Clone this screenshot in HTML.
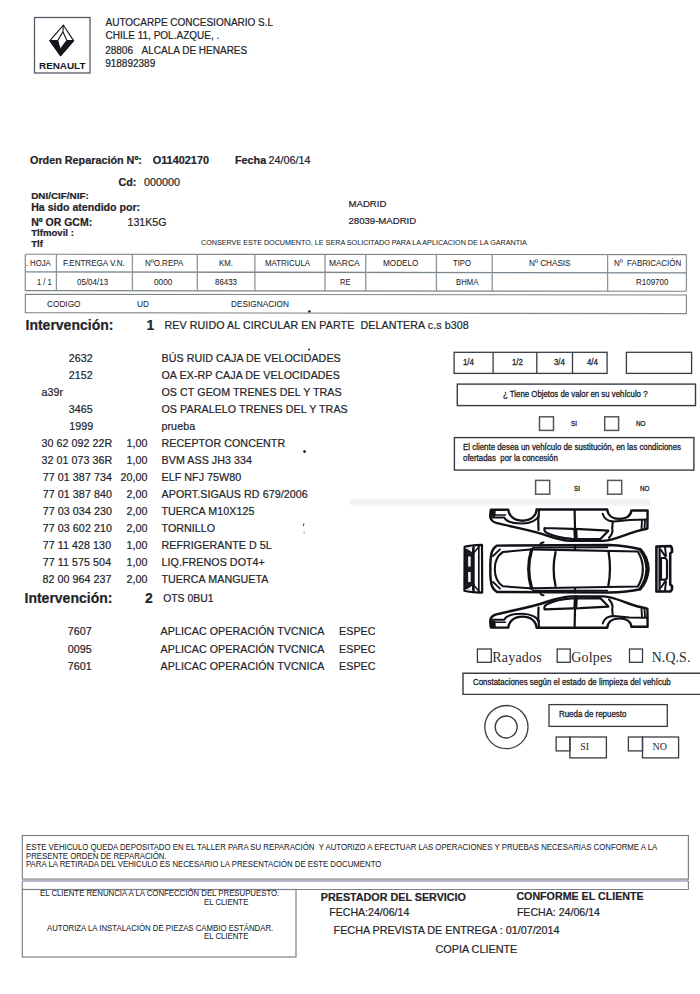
<!DOCTYPE html>
<html><head><meta charset="utf-8">
<style>
html,body{margin:0;padding:0;background:#fff;}
body{width:700px;height:994px;position:relative;overflow:hidden;}
.t{position:absolute;white-space:pre;line-height:1;transform-origin:0 0;font-family:"Liberation Sans",sans-serif;color:#232328;-webkit-text-stroke:0.2px #232328;}
.b{font-weight:bold;}
.f2{font-family:"Liberation Serif",serif;-webkit-text-stroke:0;color:#2a2a30;}
svg{position:absolute;left:0;top:0;}
.rn{position:absolute;left:39.0px;top:61.9px;font:bold 9.9px/1 "Liberation Sans",sans-serif;color:#15151c;transform:scaleY(0.87);transform-origin:0 0;letter-spacing:0px;}
</style></head><body>
<svg width="700" height="994" viewBox="0 0 700 994">
<rect x="34.5" y="17.5" width="55.5" height="55.5" fill="none" stroke="#555a66" stroke-width="1.3"/>
<g stroke="#15151c" stroke-width="1.1" stroke-linejoin="round">
<path d="M63.4 25.2 L73.6 40.6 L60.6 55.6 L49.9 40.6 Z" fill="#fff"/>
<path d="M49.9 40.6 L60.6 55.6 L73.6 40.6 L66.9 40.6 L60.2 49.4 L57.7 40.6 Z" fill="#15151c"/>
<path d="M62.9 31.8 L66.9 40.6 L60.2 49.4 L57.7 40.6 Z" fill="#fff"/>
<path d="M63.4 25.2 L62.9 31.8" fill="none"/>
</g>
<line x1="25.3" y1="254.2" x2="686.4" y2="254.6" stroke="#7d8488" stroke-width="1.1"/>
<line x1="25.3" y1="290.6" x2="686.4" y2="291.3" stroke="#7d8488" stroke-width="1.1"/>
<line x1="25.3" y1="271.9" x2="686.4" y2="272.9" stroke="#7a8690" stroke-width="1.3"/>
<line x1="25.3" y1="254.4" x2="25.3" y2="291.0" stroke="#8e949c" stroke-width="1.3"/>
<line x1="56.4" y1="254.4" x2="56.4" y2="291.0" stroke="#8e949c" stroke-width="1.3"/>
<line x1="132.4" y1="254.4" x2="132.4" y2="291.0" stroke="#8e949c" stroke-width="1.3"/>
<line x1="197.3" y1="254.4" x2="197.3" y2="291.0" stroke="#8e949c" stroke-width="1.3"/>
<line x1="254.9" y1="254.4" x2="254.9" y2="291.0" stroke="#8e949c" stroke-width="1.3"/>
<line x1="325" y1="254.4" x2="325" y2="291.0" stroke="#8e949c" stroke-width="1.3"/>
<line x1="365.7" y1="254.4" x2="365.7" y2="291.0" stroke="#8e949c" stroke-width="1.3"/>
<line x1="436.4" y1="254.4" x2="436.4" y2="291.0" stroke="#8e949c" stroke-width="1.3"/>
<line x1="492.2" y1="254.4" x2="492.2" y2="291.0" stroke="#8e949c" stroke-width="1.3"/>
<line x1="607.6" y1="254.4" x2="607.6" y2="291.0" stroke="#8e949c" stroke-width="1.3"/>
<line x1="686.4" y1="254.4" x2="686.4" y2="291.0" stroke="#8e949c" stroke-width="1.3"/>
<path d="M25.3 294.2 L686.4 295.0 L686.4 313.6 L25.3 312.6 Z" fill="none" stroke="#7d8488" stroke-width="1.1"/>
<rect x="454.1" y="352.3" width="153.0" height="21.099999999999966" fill="none" stroke="#3a3a44" stroke-width="1.3"/>
<line x1="493.1" y1="352.3" x2="493.1" y2="373.4" stroke="#3a3a44" stroke-width="1.3"/>
<line x1="536.8" y1="352.3" x2="536.8" y2="373.4" stroke="#3a3a44" stroke-width="1.3"/>
<line x1="572.5" y1="352.3" x2="572.5" y2="373.4" stroke="#3a3a44" stroke-width="1.3"/>
<rect x="626.4" y="352.3" width="65.20000000000005" height="21.099999999999966" fill="none" stroke="#3a3a44" stroke-width="1.3"/>
<rect x="457.3" y="384.1" width="238.2" height="21.5" fill="none" stroke="#3a3a44" stroke-width="1.4"/>
<rect x="539.5" y="416.8" width="14.0" height="13.599999999999966" fill="none" stroke="#555560" stroke-width="1.5"/>
<rect x="604.7" y="416.8" width="13.899999999999977" height="13.599999999999966" fill="none" stroke="#555560" stroke-width="1.5"/>
<rect x="454.4" y="437.6" width="239.5" height="32.5" fill="none" stroke="#3a3a44" stroke-width="1.4"/>
<rect x="535.6" y="480.4" width="14.100000000000023" height="13.800000000000011" fill="none" stroke="#555560" stroke-width="1.5"/>
<rect x="607.6" y="480.4" width="14.100000000000023" height="13.800000000000011" fill="none" stroke="#555560" stroke-width="1.5"/>
<rect x="477.4" y="649" width="13.900000000000034" height="13.299999999999955" fill="none" stroke="#3a3a44" stroke-width="1.3"/>
<rect x="557.2" y="649" width="13.0" height="13.299999999999955" fill="none" stroke="#3a3a44" stroke-width="1.3"/>
<rect x="629.5" y="649" width="13.0" height="13.299999999999955" fill="none" stroke="#3a3a44" stroke-width="1.3"/>
<path d="M701 673.2 L463 673.2 L463 694.4 L701 694.4" fill="none" stroke="#3a3a44" stroke-width="1.4"/>
<circle cx="506.4" cy="727.1" r="21.6" fill="none" stroke="#3a3a44" stroke-width="1.3"/>
<circle cx="506.2" cy="727.0" r="11" fill="none" stroke="#3a3a44" stroke-width="1.3"/>
<rect x="549" y="704.6" width="118.29999999999995" height="21.799999999999955" fill="none" stroke="#3a3a44" stroke-width="1.3"/>
<rect x="569.9" y="737" width="36.5" height="20.899999999999977" fill="none" stroke="#3a3a44" stroke-width="1.3"/>
<rect x="556.1" y="737" width="13.799999999999955" height="13.899999999999977" fill="none" stroke="#3a3a44" stroke-width="1.3"/>
<rect x="642.5" y="737" width="36.10000000000002" height="20.899999999999977" fill="none" stroke="#3a3a44" stroke-width="1.3"/>
<rect x="628.4" y="737" width="14.100000000000023" height="13.899999999999977" fill="none" stroke="#3a3a44" stroke-width="1.3"/>
<rect x="350" y="498" width="300" height="8" fill="#f6f6f8"/>
<rect x="350" y="500" width="300" height="4" fill="#f2f2f4"/>
<circle cx="309.1" cy="349.4" r="1.0" fill="#222"/>
<circle cx="304.6" cy="451.6" r="1.4" fill="#111"/>
<circle cx="309.4" cy="311.4" r="1.2" fill="#111"/>
<path d="M303.9 523.2 L303.4 526" stroke="#444" stroke-width="1" fill="none"/>
<path d="M304.3 531.8 L304.0 533.6" stroke="#777" stroke-width="0.8" fill="none"/>
<rect x="22.3" y="835.5" width="666.1" height="43.60000000000002" fill="none" stroke="#7c808a" stroke-width="1.2"/>
<line x1="22.3" y1="881.0" x2="688.4" y2="881.0" stroke="#9ea2b8" stroke-width="1.3"/>
<line x1="22.3" y1="881.0" x2="22.3" y2="889.5" stroke="#7c808a" stroke-width="1.1"/>
<line x1="688.4" y1="881.0" x2="688.4" y2="889.5" stroke="#7c808a" stroke-width="1.1"/>
<line x1="22.3" y1="889.5" x2="688.4" y2="889.5" stroke="#7c808a" stroke-width="1.2"/>
<rect x="22.3" y="889.5" width="273.7" height="67.5" fill="none" stroke="#7c808a" stroke-width="1.2"/>
<g fill="none" stroke="#111118" stroke-linejoin="round" stroke-linecap="round">
<!-- bottom side view (right side) ; mirrored for top -->
<g id="sv">
<path stroke-width="2.4" d="M491,627.6 L490.2,621 Q490.5,615.5 497,614.2 C510,611 528,607.5 540,604 C551,600.5 559,597 571,596.4 L603.6,596.4 C613,597 620,600.5 630,604 C638,606.8 644,607.8 647.4,608.8 L647.6,626.8 L631.4,626.8 C630.8,621.5 626,618.4 619.4,618.4 C613,618.4 607.8,621.5 607.2,627.8 L536.6,627.8 C536,621 530.5,616.6 522.4,616.6 C514.5,616.6 509,621 508.3,627.6 Z"/>
<path stroke-width="2.0" d="M491,619.8 L504.2,619.8 C506,616 513,613.8 522,613.8 C531,613.8 537.5,617.5 539,622"/>
<path stroke-width="1.6" d="M491,622.3 L505.5,622.3"/>
<path stroke-width="2.0" d="M602.7,623.6 C604,619 608,615.9 614,615.9 L629.3,617.4 L647.4,617.8"/>
<path stroke-width="2.2" d="M538.5,607.5 Q537.8,617 539,627.5"/>
<path stroke-width="2.2" d="M575.3,596.8 L574.6,627.3"/>
<path stroke-width="4.0" d="M575.9,597.5 L575.3,607.5"/>
<path stroke-width="2.2" d="M544.6,609.3 Q543.5,606 547.5,604 C553,601.3 560,599.2 572,598.4 L600.4,598.2 L608.4,606.6 L580,608.2 L544.6,609.3"/>
<path stroke-width="2.1" d="M609,599.5 Q613.5,604 612.2,609 L612.7,615.5"/>
<path stroke-width="1.9" d="M641.5,609 L642,617.3 M644.5,609 L645,617"/>
<path fill="#111118" stroke-width="0.8" d="M490.4,621 L495,621 L495.3,627.4 L490.6,627.4 Z"/>

</g>
<use href="#sv" transform="matrix(1,0,0,-1,0,1137.3)"/>
<!-- plan view -->
<path stroke-width="2.45" d="M497,545.6 L608.7,545 C620,545.5 632,547 640.3,549.2 Q647.5,556 648.6,569 Q647.5,582 640.3,589.2 C632,591.2 620,592.3 608.7,592.4 L497,592 Q492,589 491.2,583 Q490,576 490.4,569 Q490,562 491.2,555 Q492,549 497,545.6 Z"/>
<path stroke-width="2.05" d="M533,549.3 L503,552 Q494.8,557 494.8,569 Q494.8,581 503,586.3 L533,588.6"/>
<path stroke-width="1.85" d="M493,556 L500,549.3 M493,582 L500,588.6"/>
<path stroke-width="3.25" d="M531.6,549.8 Q525.8,569 531.6,588.3"/>
<path stroke-width="2.25" d="M555.5,552.2 Q551.8,569 555.5,585.8"/>
<path stroke-width="2.25" d="M608.6,552.2 Q611.5,569 608.3,586"/>
<path stroke-width="2.15" d="M531,549.4 L637.8,551.5 Q643,560 642.8,569 Q643,578 637.8,586.5 L531,588.3"/>
<path stroke-width="1.95" d="M533,547.6 L607.3,547.3 M533,590.6 L607.3,590.6"/>
<path stroke-width="2.25" d="M575,545.5 L575,549.5 M575,588.5 L575,592.3"/>
<path stroke-width="2.05" d="M540.5,545.5 Q540,542.5 543.5,542.4 M540.5,592 Q540,595.2 543.5,595.3"/>
<path stroke-width="2.95" d="M640,549.5 Q646.5,558 646.8,569 Q646.5,580 640,588.8"/>
<!-- front bumper -->
<path fill="#1a1a22" stroke="none" d="M465,549 L473.6,547.5 L473.6,590.5 L465,589 Z"/>
<path fill="#fff" stroke="none" d="M468.2,556.5 L470.6,556.5 L470.6,566.5 L468.2,566.5 Z M468.2,572 L470.6,572 L470.6,582 L468.2,582 Z"/>
<path fill="#fff" stroke="none" d="M466.5,548.5 L472,548 L472,552 Z M466.5,589.5 L472,590 L472,586 Z"/>
<path stroke-width="2.2" d="M464.6,546.8 Q470,545.2 482,544.9 L482.2,592.6 Q470,592.4 464.4,590.8 Z"/>
<path stroke-width="2.2" d="M473.6,545.8 L473.6,592.2"/>
<path stroke-width="1.7" d="M478.8,545.4 L478.8,592.4"/>
<path stroke-width="1.5" d="M473.6,553 L479.5,546 M473.6,585 L479.5,591.8"/>
<!-- rear bumper -->
<path stroke-width="2.55" d="M656.4,546.4 L670.5,546 Q672.6,548 672,552 L670.2,553.5 L670.2,584.5 L672,586 Q672.6,590 670.5,591.4 L656.4,591.6 Z"/>
<path stroke-width="2.25" d="M659.6,546.5 L659.6,591.5"/>
<path stroke-width="2.15" d="M661,558 L665,558 Q667,559 667,561 L667,577 Q667,579.5 665,579.6 L661,579.8 Z"/>
<path stroke-width="1.95" d="M661,550 L665,556 M665,547 L666,556 M661,587.5 L665,581.5 M665,590.5 L666,581.5"/>
</g>

</svg>
<div class="rn">RENAULT</div>
<div class="t" style="left:105.5px;top:18.04px;font-size:10.0px;">AUTOCARPE CONCESIONARIO S.L</div>
<div class="t" style="left:105.5px;top:31.43px;font-size:10.0px;">CHILE 11, POL.AZQUE, .</div>
<div class="t" style="left:105.2px;top:46.03px;font-size:10.0px;">28806</div>
<div class="t" style="left:141.6px;top:46.03px;font-size:10.0px;">ALCALA DE HENARES</div>
<div class="t" style="left:105.2px;top:59.13px;font-size:10.0px;">918892389</div>
<div class="t b" style="left:30.0px;top:154.76px;font-size:10.8px;">Orden Reparación Nº:</div>
<div class="t b" style="left:152.7px;top:154.67px;font-size:10.9px;">O11402170</div>
<div class="t b" style="left:235.0px;top:154.76px;font-size:10.8px;">Fecha</div>
<div class="t" style="left:268.5px;top:154.76px;font-size:10.8px;">24/06/14</div>
<div class="t b" style="left:118.4px;top:177.46px;font-size:10.8px;">Cd:</div>
<div class="t" style="left:144.0px;top:177.46px;font-size:10.8px;">000000</div>
<div class="t b" style="left:31.2px;top:190.62px;font-size:9.9px;">DNI/CIF/NIF:</div>
<div class="t b" style="left:31.2px;top:201.83px;font-size:10.6px;">Ha sido atendido por:</div>
<div class="t b" style="left:31.2px;top:216.91px;font-size:10.5px;">Nº OR GCM:</div>
<div class="t" style="left:127.5px;top:216.83px;font-size:10.6px;">131K5G</div>
<div class="t b" style="left:31.2px;top:227.67px;font-size:9.6px;">Tlfmovil :</div>
<div class="t b" style="left:31.2px;top:238.67px;font-size:9.6px;">Tlf</div>
<div class="t" style="left:348.5px;top:199.37px;font-size:9.6px;">MADRID</div>
<div class="t" style="left:348.5px;top:215.87px;font-size:9.6px;">28039-MADRID</div>
<div class="t" style="left:201.0px;top:239.21px;font-size:7.9px;transform:scaleX(0.91);-webkit-text-stroke:0.05px;">CONSERVE ESTE DOCUMENTO, LE SERA SOLICITADO PARA LA APLICACION DE LA GARANTIA</div>
<div class="t" style="left:25.7px;top:259.27px;font-size:8.9px;transform:scaleX(0.88);-webkit-text-stroke:0.05px;">.</div>
<div class="t" style="left:30.3px;top:259.27px;font-size:8.9px;transform:scaleX(0.88);-webkit-text-stroke:0.05px;">HOJA</div>
<div class="t" style="left:63.0px;top:259.18px;font-size:9.0px;transform:scaleX(0.894);-webkit-text-stroke:0.05px;">F.ENTREGA V.N.</div>
<div class="t" style="left:145.0px;top:259.27px;font-size:8.9px;transform:scaleX(0.9);-webkit-text-stroke:0.05px;">NºO.REPA</div>
<div class="t" style="left:218.7px;top:259.27px;font-size:8.9px;transform:scaleX(0.88);-webkit-text-stroke:0.05px;">KM.</div>
<div class="t" style="left:265.0px;top:259.27px;font-size:8.9px;transform:scaleX(0.89);-webkit-text-stroke:0.05px;">MATRICULA</div>
<div class="t" style="left:328.5px;top:259.27px;font-size:8.9px;transform:scaleX(0.96);-webkit-text-stroke:0.05px;">MARCA</div>
<div class="t" style="left:382.9px;top:259.27px;font-size:8.9px;transform:scaleX(0.92);-webkit-text-stroke:0.05px;">MODELO</div>
<div class="t" style="left:452.7px;top:259.27px;font-size:8.9px;transform:scaleX(0.87);-webkit-text-stroke:0.05px;">TIPO</div>
<div class="t" style="left:528.6px;top:259.27px;font-size:8.9px;transform:scaleX(0.92);-webkit-text-stroke:0.05px;">Nº CHASIS</div>
<div class="t" style="left:614.3px;top:259.27px;font-size:8.9px;transform:scaleX(0.9);-webkit-text-stroke:0.05px;">Nº&nbsp;&nbsp;FABRICACIÓN</div>
<div class="t" style="left:37.1px;top:278.37px;font-size:8.9px;transform:scaleX(0.85);-webkit-text-stroke:0.05px;">1 / 1</div>
<div class="t" style="left:77.3px;top:278.37px;font-size:8.9px;transform:scaleX(0.9);-webkit-text-stroke:0.05px;">05/04/13</div>
<div class="t" style="left:153.6px;top:278.37px;font-size:8.9px;transform:scaleX(0.93);-webkit-text-stroke:0.05px;">0000</div>
<div class="t" style="left:215.0px;top:278.37px;font-size:8.9px;transform:scaleX(0.89);-webkit-text-stroke:0.05px;">86433</div>
<div class="t" style="left:340.0px;top:278.37px;font-size:8.9px;transform:scaleX(0.85);-webkit-text-stroke:0.05px;">RE</div>
<div class="t" style="left:455.7px;top:278.37px;font-size:8.9px;transform:scaleX(0.87);-webkit-text-stroke:0.05px;">BHMA</div>
<div class="t" style="left:635.7px;top:278.37px;font-size:8.9px;transform:scaleX(0.9);-webkit-text-stroke:0.05px;">R109700</div>
<div class="t" style="left:47.1px;top:300.01px;font-size:9.2px;transform:scaleX(0.9);-webkit-text-stroke:0.05px;">CODIGO</div>
<div class="t" style="left:137.0px;top:300.01px;font-size:9.2px;transform:scaleX(0.9);-webkit-text-stroke:0.05px;">UD</div>
<div class="t" style="left:231.3px;top:300.01px;font-size:9.2px;transform:scaleX(0.9);-webkit-text-stroke:0.05px;">DESIGNACION</div>
<div class="t b" style="left:25.5px;top:317.55px;font-size:14.0px;">Intervención:</div>
<div class="t b" style="left:146.5px;top:317.55px;font-size:14.0px;">1</div>
<div class="t" style="left:164.5px;top:320.34px;font-size:10.7px;letter-spacing:0.08px">REV RUIDO AL CIRCULAR EN PARTE&nbsp;&nbsp;DELANTERA c.s b308</div>
<div class="t" style="left:68.7px;top:353.04px;font-size:10.7px;letter-spacing:0.06px">2632</div>
<div class="t" style="left:161.5px;top:353.04px;font-size:10.7px;letter-spacing:0.06px">BÚS RUID CAJA DE VELOCIDADES</div>
<div class="t" style="left:68.7px;top:370.00px;font-size:10.7px;letter-spacing:0.06px">2152</div>
<div class="t" style="left:161.5px;top:370.00px;font-size:10.7px;letter-spacing:0.06px">OA EX-RP CAJA DE VELOCIDADES</div>
<div class="t" style="left:41.4px;top:386.96px;font-size:10.7px;letter-spacing:0.06px">a39r</div>
<div class="t" style="left:161.5px;top:386.96px;font-size:10.7px;letter-spacing:0.06px">OS CT GEOM TRENES DEL Y TRAS</div>
<div class="t" style="left:68.7px;top:403.92px;font-size:10.7px;letter-spacing:0.06px">3465</div>
<div class="t" style="left:161.5px;top:403.92px;font-size:10.7px;letter-spacing:0.06px">OS PARALELO TRENES DEL Y TRAS</div>
<div class="t" style="left:69.2px;top:420.88px;font-size:10.7px;letter-spacing:0.06px">1999</div>
<div class="t" style="left:161.5px;top:420.88px;font-size:10.7px;letter-spacing:0.06px">prueba</div>
<div class="t" style="left:41.5px;top:437.84px;font-size:10.7px;letter-spacing:0.06px">30 62 092 22R</div>
<div class="t" style="left:126.4px;top:437.84px;font-size:10.7px;letter-spacing:0.06px">1,00</div>
<div class="t" style="left:161.5px;top:437.84px;font-size:10.7px;letter-spacing:0.06px">RECEPTOR CONCENTR</div>
<div class="t" style="left:41.5px;top:454.80px;font-size:10.7px;letter-spacing:0.06px">32 01 073 36R</div>
<div class="t" style="left:126.4px;top:454.80px;font-size:10.7px;letter-spacing:0.06px">1,00</div>
<div class="t" style="left:161.5px;top:454.80px;font-size:10.7px;letter-spacing:0.06px">BVM ASS JH3 334</div>
<div class="t" style="left:42.8px;top:471.76px;font-size:10.7px;letter-spacing:0.06px">77 01 387 734</div>
<div class="t" style="left:120.4px;top:471.76px;font-size:10.7px;letter-spacing:0.06px">20,00</div>
<div class="t" style="left:161.5px;top:471.76px;font-size:10.7px;letter-spacing:0.06px">ELF NFJ 75W80</div>
<div class="t" style="left:42.8px;top:488.72px;font-size:10.7px;letter-spacing:0.06px">77 01 387 840</div>
<div class="t" style="left:126.4px;top:488.72px;font-size:10.7px;letter-spacing:0.06px">2,00</div>
<div class="t" style="left:161.5px;top:488.72px;font-size:10.7px;letter-spacing:0.06px">APORT.SIGAUS RD 679/2006</div>
<div class="t" style="left:42.8px;top:505.68px;font-size:10.7px;letter-spacing:0.06px">77 03 034 230</div>
<div class="t" style="left:126.4px;top:505.68px;font-size:10.7px;letter-spacing:0.06px">2,00</div>
<div class="t" style="left:161.5px;top:505.68px;font-size:10.7px;letter-spacing:0.06px">TUERCA M10X125</div>
<div class="t" style="left:42.8px;top:522.64px;font-size:10.7px;letter-spacing:0.06px">77 03 602 210</div>
<div class="t" style="left:126.4px;top:522.64px;font-size:10.7px;letter-spacing:0.06px">2,00</div>
<div class="t" style="left:161.5px;top:522.64px;font-size:10.7px;letter-spacing:0.06px">TORNILLO</div>
<div class="t" style="left:42.8px;top:539.60px;font-size:10.7px;letter-spacing:0.06px">77 11 428 130</div>
<div class="t" style="left:126.4px;top:539.60px;font-size:10.7px;letter-spacing:0.06px">1,00</div>
<div class="t" style="left:161.5px;top:539.60px;font-size:10.7px;letter-spacing:0.06px">REFRIGERANTE D 5L</div>
<div class="t" style="left:42.8px;top:556.56px;font-size:10.7px;letter-spacing:0.06px">77 11 575 504</div>
<div class="t" style="left:126.4px;top:556.56px;font-size:10.7px;letter-spacing:0.06px">1,00</div>
<div class="t" style="left:161.5px;top:556.56px;font-size:10.7px;letter-spacing:0.06px">LIQ.FRENOS DOT4+</div>
<div class="t" style="left:42.5px;top:573.52px;font-size:10.7px;letter-spacing:0.06px">82 00 964 237</div>
<div class="t" style="left:126.4px;top:573.52px;font-size:10.7px;letter-spacing:0.06px">2,00</div>
<div class="t" style="left:161.5px;top:573.52px;font-size:10.7px;letter-spacing:0.06px">TUERCA MANGUETA</div>
<div class="t b" style="left:24.5px;top:590.75px;font-size:14.0px;">Intervención:</div>
<div class="t b" style="left:145.0px;top:590.75px;font-size:14.0px;">2</div>
<div class="t" style="left:163.2px;top:593.80px;font-size:10.4px;">OTS 0BU1</div>
<div class="t" style="left:67.7px;top:626.44px;font-size:10.7px;letter-spacing:0.06px">7607</div>
<div class="t" style="left:160.5px;top:626.44px;font-size:10.7px;letter-spacing:0.06px">APLICAC OPERACIÓN TVCNICA</div>
<div class="t" style="left:339.0px;top:626.44px;font-size:10.7px;letter-spacing:0.06px">ESPEC</div>
<div class="t" style="left:67.7px;top:643.74px;font-size:10.7px;letter-spacing:0.06px">0095</div>
<div class="t" style="left:160.5px;top:643.74px;font-size:10.7px;letter-spacing:0.06px">APLICAC OPERACIÓN TVCNICA</div>
<div class="t" style="left:339.0px;top:643.74px;font-size:10.7px;letter-spacing:0.06px">ESPEC</div>
<div class="t" style="left:67.7px;top:661.04px;font-size:10.7px;letter-spacing:0.06px">7601</div>
<div class="t" style="left:160.5px;top:661.04px;font-size:10.7px;letter-spacing:0.06px">APLICAC OPERACIÓN TVCNICA</div>
<div class="t" style="left:339.0px;top:661.04px;font-size:10.7px;letter-spacing:0.06px">ESPEC</div>
<div class="t" style="left:463.3px;top:357.98px;font-size:9.0px;-webkit-text-stroke:0.3px #222228;transform:scaleX(0.87);">1/4</div>
<div class="t" style="left:512.4px;top:357.98px;font-size:9.0px;-webkit-text-stroke:0.3px #222228;transform:scaleX(0.87);">1/2</div>
<div class="t" style="left:553.6px;top:357.98px;font-size:9.0px;-webkit-text-stroke:0.3px #222228;transform:scaleX(0.87);">3/4</div>
<div class="t" style="left:587.1px;top:357.98px;font-size:9.0px;-webkit-text-stroke:0.3px #222228;transform:scaleX(0.87);">4/4</div>
<div class="t" style="left:502.6px;top:390.38px;font-size:9.0px;-webkit-text-stroke:0.3px #222228;transform:scaleX(0.87);">¿ Tiene Objetos de valor en su vehículo ?</div>
<div class="t" style="left:570.7px;top:420.14px;font-size:7.4px;color:#222;-webkit-text-stroke:0.3px #222;transform:scaleX(0.85);">SI</div>
<div class="t" style="left:636.4px;top:420.14px;font-size:7.4px;color:#222;-webkit-text-stroke:0.3px #222;transform:scaleX(0.85);">NO</div>
<div class="t" style="left:462.6px;top:443.38px;font-size:9.0px;-webkit-text-stroke:0.3px #222228;transform:scaleX(0.877);">El cliente desea un vehículo de sustitución, en las condiciones</div>
<div class="t" style="left:462.6px;top:453.98px;font-size:9.0px;-webkit-text-stroke:0.3px #222228;transform:scaleX(0.877);">ofertadas&nbsp;&nbsp;por la concesión</div>
<div class="t" style="left:574.4px;top:484.54px;font-size:7.4px;color:#222;-webkit-text-stroke:0.3px #222;transform:scaleX(0.85);">SI</div>
<div class="t" style="left:640.0px;top:484.54px;font-size:7.4px;color:#222;-webkit-text-stroke:0.3px #222;transform:scaleX(0.85);">NO</div>
<div class="t f2" style="left:492.3px;top:650.57px;font-size:14.0px;letter-spacing:0.2px">Rayados</div>
<div class="t f2" style="left:571.2px;top:650.57px;font-size:14.0px;letter-spacing:0.2px">Golpes</div>
<div class="t f2" style="left:651.7px;top:650.74px;font-size:13.8px;letter-spacing:0.15px">N.Q.S.</div>
<div class="t" style="left:473.3px;top:678.28px;font-size:9.0px;-webkit-text-stroke:0.3px #222228;transform:scaleX(0.88);">Constataciones según el estado de limpieza del vehícub</div>
<div class="t" style="left:559.2px;top:710.18px;font-size:9.0px;-webkit-text-stroke:0.3px #222228;transform:scaleX(0.88);">Rueda de repuesto</div>
<div class="t f2" style="left:580.3px;top:741.62px;font-size:10.0px;">SI</div>
<div class="t f2" style="left:652.6px;top:741.62px;font-size:10.0px;">NO</div>
<div class="t" style="left:25.9px;top:843.12px;font-size:8.6px;transform:scaleX(0.907);-webkit-text-stroke:0.05px;">ESTE VEHICULO QUEDA DEPOSITADO EN EL TALLER PARA SU REPARACIÓN&nbsp;&nbsp;Y AUTORIZO A EFECTUAR LAS OPERACIONES Y PRUEBAS NECESARIAS CONFORME A LA</div>
<div class="t" style="left:25.9px;top:851.52px;font-size:8.6px;transform:scaleX(0.907);-webkit-text-stroke:0.05px;">PRESENTE ORDEN DE REPARACIÓN.</div>
<div class="t" style="left:25.9px;top:859.92px;font-size:8.6px;transform:scaleX(0.907);-webkit-text-stroke:0.05px;">PARA LA RETIRADA DEL VEHICULO ES NECESARIO LA PRESENTACIÓN DE ESTE DOCUMENTO</div>
<div class="t" style="left:40.1px;top:888.72px;font-size:8.6px;transform:scaleX(0.907);-webkit-text-stroke:0.05px;">EL CLIENTE RENUNCIA A LA CONFECCIÓN DEL PRESUPUESTO.</div>
<div class="t" style="left:204.0px;top:897.52px;font-size:8.6px;transform:scaleX(0.907);-webkit-text-stroke:0.05px;">EL CLIENTE</div>
<div class="t" style="left:46.8px;top:923.72px;font-size:8.6px;transform:scaleX(0.907);-webkit-text-stroke:0.05px;">AUTORIZA LA INSTALACIÓN DE PIEZAS CAMBIO ESTÁNDAR.</div>
<div class="t" style="left:204.0px;top:931.62px;font-size:8.6px;transform:scaleX(0.907);-webkit-text-stroke:0.05px;">EL CLIENTE</div>
<div class="t b" style="left:320.8px;top:891.70px;font-size:10.75px;">PRESTADOR DEL SERVICIO</div>
<div class="t b" style="left:516.4px;top:891.06px;font-size:10.68px;">CONFORME EL CLIENTE</div>
<div class="t" style="left:329.2px;top:907.43px;font-size:10.6px;">FECHA:24/06/14</div>
<div class="t" style="left:516.9px;top:907.43px;font-size:10.6px;">FECHA: 24/06/14</div>
<div class="t" style="left:333.6px;top:925.08px;font-size:10.77px;">FECHA PREVISTA DE ENTREGA : 01/07/2014</div>
<div class="t" style="left:435.4px;top:944.32px;font-size:10.85px;">COPIA CLIENTE</div>
</body></html>
